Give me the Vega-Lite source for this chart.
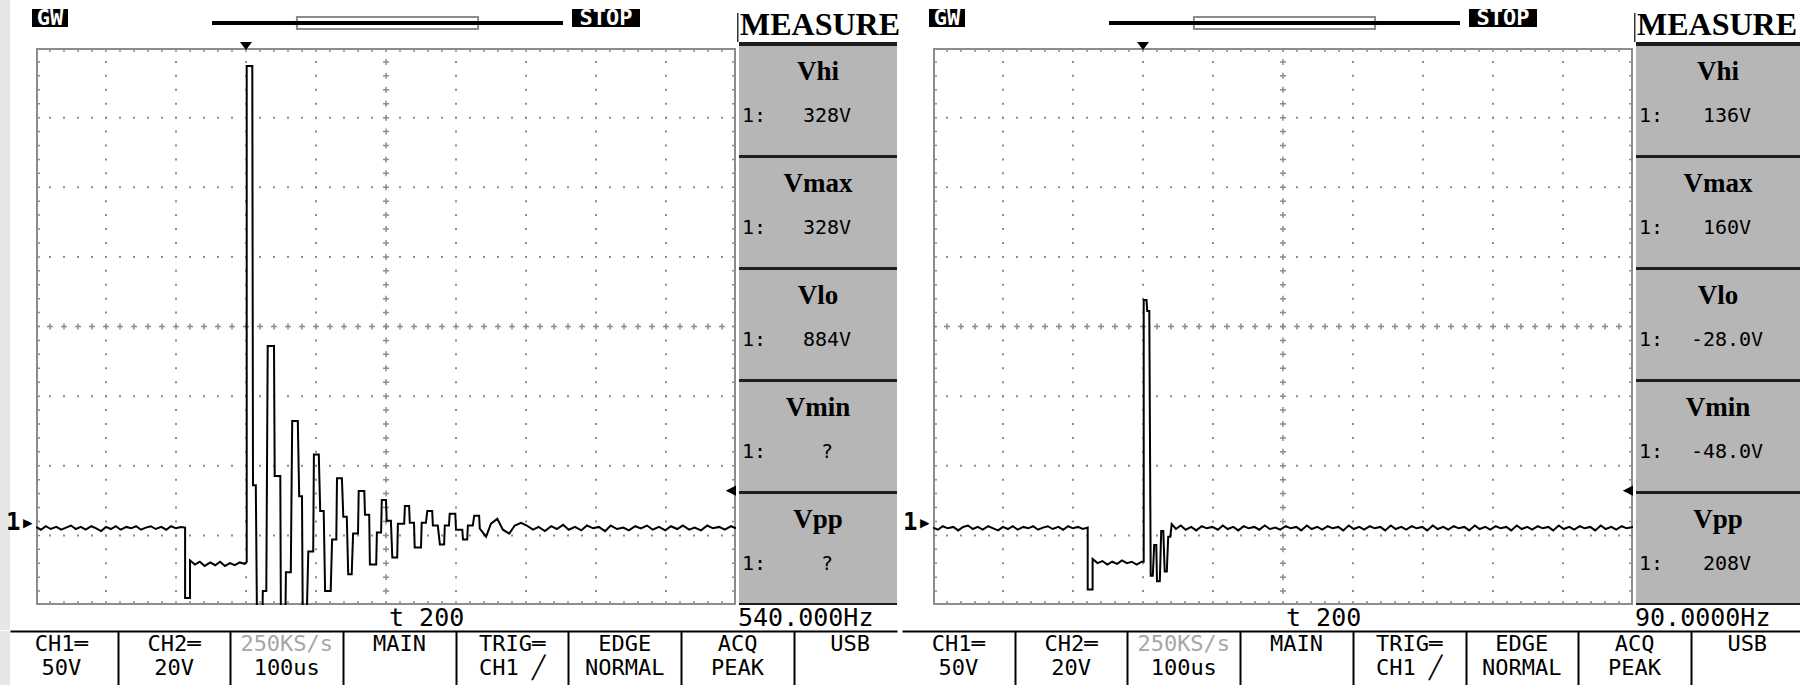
{
"$schema": "https://vega.github.io/schema/vega-lite/v6.json",
"padding": 0,
"background": "white",
"spacing": 0,
"config": {"view": {"stroke": null}, "concat": {"spacing": 0}},
"datasets": {
 "bar": [{"slot":1,"line":1,"txt":"CH1═"},{"slot":1,"line":2,"txt":"50V"},{"slot":2,"line":1,"txt":"CH2═"},{"slot":2,"line":2,"txt":"20V"},{"slot":3,"line":1,"txt":"250KS/s"},{"slot":3,"line":2,"txt":"100us"},{"slot":4,"line":1,"txt":"MAIN"},{"slot":5,"line":1,"txt":"TRIG═"},{"slot":5,"line":2,"txt":"CH1 ╱"},{"slot":6,"line":1,"txt":"EDGE"},{"slot":6,"line":2,"txt":"NORMAL"},{"slot":7,"line":1,"txt":"ACQ"},{"slot":7,"line":2,"txt":"PEAK"},{"slot":8,"line":1,"txt":"USB"}],
 "vgrid": [{"t":-200},{"t":-100},{"t":0},{"t":100},{"t":300},{"t":400},{"t":500},{"t":600}],
 "hgrid": [{"div":-3},{"div":-2},{"div":-1},{"div":1},{"div":2},{"div":3}],
 "vcenter": [{"t":200}],
 "hcenter": [{"div":0}],
 "leftEdge": [{"t":-300}],
 "rightEdge": [{"t":700}],
 "topEdge": [{"div":4}],
 "bottomEdge": [{"div":-4}],
 "memory": [{"rec_start":0,"rec_end":1,"win_start":0.242,"win_end":0.758}],
 "waveL": [{"t":-300,"v":-3},{"t":-293,"v":-5},{"t":-286,"v":-2.5},{"t":-279,"v":-4.5},{"t":-271,"v":-3},{"t":-264,"v":-5},{"t":-257,"v":-3.5},{"t":-250,"v":-2},{"t":-243,"v":-4.5},{"t":-236,"v":-3},{"t":-229,"v":-5},{"t":-221,"v":-2.5},{"t":-214,"v":-4},{"t":-207,"v":-6},{"t":-200,"v":-3},{"t":-193,"v":-4.5},{"t":-186,"v":-2.5},{"t":-179,"v":-5},{"t":-171,"v":-3},{"t":-164,"v":-4},{"t":-157,"v":-2.5},{"t":-150,"v":-5},{"t":-143,"v":-3.5},{"t":-136,"v":-2.5},{"t":-129,"v":-4.5},{"t":-121,"v":-3},{"t":-114,"v":-5},{"t":-107,"v":-2.5},{"t":-100,"v":-4},{"t":-93,"v":-3},{"t":-87,"v":-3.5},{"t":-87,"v":-54},{"t":-80,"v":-54},{"t":-80,"v":-27},{"t":-73,"v":-30},{"t":-66,"v":-28},{"t":-59,"v":-31},{"t":-51,"v":-28.5},{"t":-44,"v":-30.5},{"t":-37,"v":-28},{"t":-30,"v":-31},{"t":-23,"v":-29},{"t":-16,"v":-30.5},{"t":-9,"v":-28.5},{"t":-2,"v":-29.5},{"t":1,"v":-28},{"t":1,"v":328},{"t":9,"v":328},{"t":10,"v":27},{"t":14,"v":27},{"t":16,"v":-85},{"t":23,"v":-85},{"t":24,"v":-49},{"t":29,"v":-49},{"t":31,"v":127},{"t":40,"v":127},{"t":41,"v":33.5},{"t":49,"v":33.5},{"t":50,"v":-85},{"t":56,"v":-85},{"t":57,"v":-35.6},{"t":64,"v":-35.6},{"t":66,"v":73},{"t":74,"v":73},{"t":76,"v":19},{"t":80,"v":19},{"t":81,"v":-63},{"t":87,"v":-63},{"t":89,"v":-20.6},{"t":96,"v":-20.6},{"t":97,"v":49},{"t":104,"v":49},{"t":106,"v":8.5},{"t":111,"v":8.5},{"t":113,"v":-49},{"t":121,"v":-49},{"t":123,"v":-12},{"t":129,"v":-12},{"t":130,"v":32},{"t":137,"v":32},{"t":139,"v":4.3},{"t":144,"v":4.3},{"t":146,"v":-37},{"t":151,"v":-37},{"t":153,"v":-7.8},{"t":160,"v":-7.8},{"t":161,"v":22.8},{"t":169,"v":22.8},{"t":170,"v":5.7},{"t":176,"v":5.7},{"t":177,"v":-30},{"t":186,"v":-30},{"t":187,"v":-7},{"t":193,"v":-7},{"t":194,"v":16.4},{"t":200,"v":16.4},{"t":201,"v":1.4},{"t":207,"v":1.4},{"t":209,"v":-25},{"t":216,"v":-25},{"t":217,"v":-0.7},{"t":226,"v":-0.7},{"t":227,"v":12},{"t":233,"v":12},{"t":234,"v":0},{"t":240,"v":0},{"t":241,"v":-17.8},{"t":250,"v":-17.8},{"t":251,"v":0},{"t":257,"v":0},{"t":259,"v":8.5},{"t":266,"v":8.5},{"t":267,"v":-2},{"t":274,"v":-2},{"t":277,"v":-15.7},{"t":283,"v":-15.7},{"t":284,"v":-2},{"t":290,"v":-2},{"t":291,"v":6.4},{"t":299,"v":6.4},{"t":300,"v":-5},{"t":309,"v":-5},{"t":310,"v":-12},{"t":316,"v":-12},{"t":317,"v":-2},{"t":324,"v":-2},{"t":326,"v":5},{"t":333,"v":5},{"t":334,"v":-4.3},{"t":343,"v":-10},{"t":350,"v":-0.7},{"t":359,"v":2.8},{"t":367,"v":-5},{"t":376,"v":-7.8},{"t":384,"v":-2},{"t":393,"v":0},{"t":401,"v":-2},{"t":410,"v":-5},{"t":418,"v":-3},{"t":427,"v":-6},{"t":436,"v":-2.5},{"t":444,"v":-4.5},{"t":453,"v":-1.5},{"t":461,"v":-5},{"t":470,"v":-3},{"t":479,"v":-5.5},{"t":487,"v":-2},{"t":496,"v":-4},{"t":504,"v":-3},{"t":513,"v":-6},{"t":521,"v":-2},{"t":530,"v":-4.5},{"t":539,"v":-3.5},{"t":547,"v":-5.5},{"t":556,"v":-2.5},{"t":564,"v":-4},{"t":573,"v":-2},{"t":581,"v":-5},{"t":590,"v":-3},{"t":599,"v":-5.5},{"t":607,"v":-2.5},{"t":616,"v":-4.5},{"t":624,"v":-2},{"t":633,"v":-5},{"t":641,"v":-3.5},{"t":650,"v":-5.5},{"t":659,"v":-2},{"t":667,"v":-4},{"t":676,"v":-3},{"t":684,"v":-5},{"t":693,"v":-2.5},{"t":700,"v":-4}],
 "waveR": [{"t":-300,"v":-3.5},{"t":-293,"v":-5},{"t":-286,"v":-2.5},{"t":-279,"v":-4},{"t":-271,"v":-3},{"t":-264,"v":-5.5},{"t":-257,"v":-3},{"t":-250,"v":-2},{"t":-243,"v":-4.5},{"t":-236,"v":-3},{"t":-229,"v":-5},{"t":-221,"v":-2.5},{"t":-214,"v":-4},{"t":-207,"v":-5.5},{"t":-200,"v":-3},{"t":-193,"v":-4.5},{"t":-186,"v":-2.5},{"t":-179,"v":-5},{"t":-171,"v":-3},{"t":-164,"v":-4},{"t":-157,"v":-2.5},{"t":-150,"v":-5},{"t":-143,"v":-3.5},{"t":-136,"v":-2.5},{"t":-129,"v":-4.5},{"t":-121,"v":-3},{"t":-114,"v":-5},{"t":-107,"v":-2.5},{"t":-100,"v":-4},{"t":-93,"v":-3},{"t":-86,"v":-4.5},{"t":-79,"v":-3.5},{"t":-79,"v":-48},{"t":-72,"v":-48},{"t":-72,"v":-26},{"t":-65,"v":-29},{"t":-58,"v":-27.5},{"t":-51,"v":-30},{"t":-44,"v":-28},{"t":-37,"v":-29.5},{"t":-30,"v":-27},{"t":-23,"v":-29},{"t":-16,"v":-28},{"t":-9,"v":-30},{"t":-2,"v":-28},{"t":1,"v":-28},{"t":1,"v":160},{"t":5,"v":160},{"t":6,"v":152},{"t":9,"v":152},{"t":11,"v":-38},{"t":14,"v":-38},{"t":16,"v":-16},{"t":19,"v":-16},{"t":20,"v":-42},{"t":24,"v":-42},{"t":26,"v":-6},{"t":29,"v":-6},{"t":31,"v":-35},{"t":34,"v":-35},{"t":36,"v":-10},{"t":39,"v":-10},{"t":41,"v":-1},{"t":47,"v":-4.5},{"t":54,"v":-2},{"t":61,"v":-5},{"t":69,"v":-3},{"t":76,"v":-5.5},{"t":84,"v":-2.5},{"t":91,"v":-4},{"t":99,"v":-3},{"t":107,"v":-5},{"t":114,"v":-2},{"t":121,"v":-4.5},{"t":129,"v":-3},{"t":136,"v":-5.5},{"t":144,"v":-2.5},{"t":151,"v":-4},{"t":159,"v":-3},{"t":166,"v":-5},{"t":174,"v":-2},{"t":181,"v":-4.5},{"t":189,"v":-3.5},{"t":196,"v":-5},{"t":204,"v":-2.5},{"t":211,"v":-4},{"t":219,"v":-3},{"t":226,"v":-5.5},{"t":234,"v":-2},{"t":241,"v":-4.5},{"t":249,"v":-3},{"t":256,"v":-5},{"t":264,"v":-2.5},{"t":271,"v":-4},{"t":279,"v":-3},{"t":286,"v":-5.5},{"t":294,"v":-2},{"t":301,"v":-4.5},{"t":309,"v":-3},{"t":316,"v":-5},{"t":324,"v":-2.5},{"t":331,"v":-4},{"t":339,"v":-3},{"t":346,"v":-5.5},{"t":354,"v":-2},{"t":361,"v":-4.5},{"t":369,"v":-3},{"t":376,"v":-5},{"t":384,"v":-2.5},{"t":391,"v":-4},{"t":399,"v":-3},{"t":406,"v":-5.5},{"t":414,"v":-2},{"t":421,"v":-4.5},{"t":429,"v":-3},{"t":436,"v":-5},{"t":444,"v":-2.5},{"t":451,"v":-4},{"t":459,"v":-3},{"t":466,"v":-5.5},{"t":474,"v":-2},{"t":481,"v":-4.5},{"t":489,"v":-3},{"t":496,"v":-5},{"t":504,"v":-2.5},{"t":511,"v":-4},{"t":519,"v":-3},{"t":526,"v":-5.5},{"t":534,"v":-2},{"t":541,"v":-4.5},{"t":549,"v":-3},{"t":556,"v":-5},{"t":564,"v":-2.5},{"t":571,"v":-4},{"t":579,"v":-3},{"t":586,"v":-5.5},{"t":594,"v":-2},{"t":601,"v":-4.5},{"t":609,"v":-3},{"t":616,"v":-5},{"t":624,"v":-2.5},{"t":631,"v":-4},{"t":639,"v":-3},{"t":646,"v":-5.5},{"t":654,"v":-2},{"t":661,"v":-4.5},{"t":669,"v":-3},{"t":676,"v":-5},{"t":684,"v":-2.5},{"t":691,"v":-4},{"t":700,"v":-3}],
 "measL": [{"name":"Vhi","ch":"1:","reading":"328V"},{"name":"Vmax","ch":"1:","reading":"328V"},{"name":"Vlo","ch":"1:","reading":"884V"},{"name":"Vmin","ch":"1:","reading":"?"},{"name":"Vpp","ch":"1:","reading":"?"}],
 "measR": [{"name":"Vhi","ch":"1:","reading":"136V"},{"name":"Vmax","ch":"1:","reading":"160V"},{"name":"Vlo","ch":"1:","reading":"-28.0V"},{"name":"Vmin","ch":"1:","reading":"-48.0V"},{"name":"Vpp","ch":"1:","reading":"208V"}]
},
"vconcat": [
 {"hconcat": [
  {"width":10,"height":42,"view":{"fill":"#e6e6e6"},"data":{"values":[{}]},"mark":{"type":"point","opacity":0}},
  {"width":22,"height":42,"data":{"values":[{}]},"mark":{"type":"point","opacity":0}},
  {"width":36,"height":42,"data":{"values":[{"label":"GW"}]},"layer":[
    {"mark":{"type":"rect","color":"black"},"encoding":{"y":{"datum":0.786,"scale":{"domain":[0,1],"nice":false,"zero":false},"axis":null},"y2":{"datum":0.357}}},
    {"mark":{"type":"text","color":"white","font":"DejaVu Sans Mono","fontWeight":"bold","fontSize":22,"baseline":"middle"},"encoding":{"text":{"field":"label"},"y":{"datum":0.571,"scale":{"domain":[0,1],"nice":false,"zero":false},"axis":null}}}
  ]},
  {"width":144,"height":42,"data":{"values":[{}]},"mark":{"type":"point","opacity":0}},
  {"width":351,"height":42,"data":{"name":"memory"},"layer":[
    {"mark":{"type":"rect","fill":"white","stroke":"#8c8c8c","strokeWidth":2},"encoding":{"x":{"field":"win_start","type":"quantitative","scale":{"domain":[0,1],"nice":false},"axis":null},"x2":{"field":"win_end"},"y":{"datum":0.595,"scale":{"domain":[0,1],"nice":false,"zero":false},"axis":null},"y2":{"datum":0.31}}},
    {"mark":{"type":"rule","color":"black","strokeWidth":4},"encoding":{"x":{"field":"rec_start","type":"quantitative","scale":{"domain":[0,1],"nice":false},"axis":null},"x2":{"field":"rec_end"},"y":{"datum":0.452,"scale":{"domain":[0,1],"nice":false,"zero":false},"axis":null}}}
  ]},
  {"width":9,"height":42,"data":{"values":[{}]},"mark":{"type":"point","opacity":0}},
  {"width":68,"height":42,"data":{"values":[{"label":"STOP"}]},"layer":[
    {"mark":{"type":"rect","color":"black"},"encoding":{"y":{"datum":0.786,"scale":{"domain":[0,1],"nice":false,"zero":false},"axis":null},"y2":{"datum":0.357}}},
    {"mark":{"type":"text","color":"white","font":"DejaVu Sans Mono","fontWeight":"bold","fontSize":22,"baseline":"middle"},"encoding":{"text":{"field":"label"},"y":{"datum":0.571,"scale":{"domain":[0,1],"nice":false,"zero":false},"axis":null}}}
  ]},
  {"width":97,"height":42,"data":{"values":[{}]},"mark":{"type":"point","opacity":0}},
  {"width":160,"height":42,"data":{"values":[{"label":"MEASURE"}]},"layer":[
    {"mark":{"type":"rule","color":"#333333","strokeWidth":3,"clip":true},"encoding":{"x":{"datum":0,"scale":{"domain":[0,1],"nice":false},"axis":null},"y":{"datum":0.69,"scale":{"domain":[0,1],"nice":false,"zero":false},"axis":null},"y2":{"datum":0}}},
    {"mark":{"type":"text","color":"black","font":"Liberation Serif","fontWeight":"bold","fontSize":32,"align":"left","baseline":"bottom","dx":3},"encoding":{"text":{"field":"label"},"x":{"datum":0,"scale":{"domain":[0,1],"nice":false},"axis":null},"y":{"datum":0,"scale":{"domain":[0,1],"nice":false,"zero":false},"axis":null}}}
  ]},
  {"width":32,"height":42,"data":{"values":[{}]},"mark":{"type":"point","opacity":0}},
  {"width":36,"height":42,"data":{"values":[{"label":"GW"}]},"layer":[
    {"mark":{"type":"rect","color":"black"},"encoding":{"y":{"datum":0.786,"scale":{"domain":[0,1],"nice":false,"zero":false},"axis":null},"y2":{"datum":0.357}}},
    {"mark":{"type":"text","color":"white","font":"DejaVu Sans Mono","fontWeight":"bold","fontSize":22,"baseline":"middle"},"encoding":{"text":{"field":"label"},"y":{"datum":0.571,"scale":{"domain":[0,1],"nice":false,"zero":false},"axis":null}}}
  ]},
  {"width":144,"height":42,"data":{"values":[{}]},"mark":{"type":"point","opacity":0}},
  {"width":351,"height":42,"data":{"name":"memory"},"layer":[
    {"mark":{"type":"rect","fill":"white","stroke":"#8c8c8c","strokeWidth":2},"encoding":{"x":{"field":"win_start","type":"quantitative","scale":{"domain":[0,1],"nice":false},"axis":null},"x2":{"field":"win_end"},"y":{"datum":0.595,"scale":{"domain":[0,1],"nice":false,"zero":false},"axis":null},"y2":{"datum":0.31}}},
    {"mark":{"type":"rule","color":"black","strokeWidth":4},"encoding":{"x":{"field":"rec_start","type":"quantitative","scale":{"domain":[0,1],"nice":false},"axis":null},"x2":{"field":"rec_end"},"y":{"datum":0.452,"scale":{"domain":[0,1],"nice":false,"zero":false},"axis":null}}}
  ]},
  {"width":9,"height":42,"data":{"values":[{}]},"mark":{"type":"point","opacity":0}},
  {"width":68,"height":42,"data":{"values":[{"label":"STOP"}]},"layer":[
    {"mark":{"type":"rect","color":"black"},"encoding":{"y":{"datum":0.786,"scale":{"domain":[0,1],"nice":false,"zero":false},"axis":null},"y2":{"datum":0.357}}},
    {"mark":{"type":"text","color":"white","font":"DejaVu Sans Mono","fontWeight":"bold","fontSize":22,"baseline":"middle"},"encoding":{"text":{"field":"label"},"y":{"datum":0.571,"scale":{"domain":[0,1],"nice":false,"zero":false},"axis":null}}}
  ]},
  {"width":97,"height":42,"data":{"values":[{}]},"mark":{"type":"point","opacity":0}},
  {"width":166,"height":42,"data":{"values":[{"label":"MEASURE"}]},"layer":[
    {"mark":{"type":"rule","color":"#333333","strokeWidth":3,"clip":true},"encoding":{"x":{"datum":0,"scale":{"domain":[0,1],"nice":false},"axis":null},"y":{"datum":0.69,"scale":{"domain":[0,1],"nice":false,"zero":false},"axis":null},"y2":{"datum":0}}},
    {"mark":{"type":"text","color":"black","font":"Liberation Serif","fontWeight":"bold","fontSize":32,"align":"left","baseline":"bottom","dx":3},"encoding":{"text":{"field":"label"},"x":{"datum":0,"scale":{"domain":[0,1],"nice":false},"axis":null},"y":{"datum":0,"scale":{"domain":[0,1],"nice":false,"zero":false},"axis":null}}}
  ]}
 ],"spacing":0,"bounds":"flush"},
 {"hconcat": [
  {"width":10,"height":563,"view":{"fill":"#e6e6e6"},"data":{"values":[{}]},"mark":{"type":"point","opacity":0}},
  {"width":26,"height":563,"data":{"values":[{}]},"mark":{"type":"text","font":"DejaVu Sans Mono","fontWeight":"bold","fontSize":24,"align":"right","baseline":"middle","dx":-1,"color":"black"},
   "encoding":{"text":{"value":"1▸"},"x":{"datum":1,"scale":{"domain":[0,1],"nice":false},"axis":null},"y":{"datum":0,"scale":{"domain":[-59.07,345.24],"nice":false,"zero":false},"axis":null}}},
  {"width":700,"height":563,
   "resolve":{"scale":{"y":"independent"}},
   "layer":[
    {"data":{"name":"vgrid"},"mark":{"type":"rule","color":"#8c8c8c","strokeWidth":2,"strokeDash":[2,11.925],"strokeDashOffset":1,"clip":true},"encoding":{"x":{"field":"t","type":"quantitative","scale":{"domain":[-300,700],"nice":false,"zero":false},"axis":null},"y":{"datum":4,"scale":{"domain":[-4,4.0862],"nice":false,"zero":false},"axis":null},"y2":{"datum":-4}}},
    {"data":{"name":"hgrid"},"mark":{"type":"rule","color":"#8c8c8c","strokeWidth":2,"strokeDash":[2,12],"strokeDashOffset":1,"clip":true},"encoding":{"y":{"field":"div","type":"quantitative","scale":{"domain":[-4,4.0862],"nice":false,"zero":false},"axis":null}}},
    {"data":{"name":"vcenter"},"mark":{"type":"rule","color":"#8c8c8c","strokeWidth":1.5,"strokeDash":[6,7.925],"strokeDashOffset":3,"clip":true},"encoding":{"x":{"field":"t","type":"quantitative","scale":{"domain":[-300,700],"nice":false,"zero":false},"axis":null},"y":{"datum":4,"scale":{"domain":[-4,4.0862],"nice":false,"zero":false},"axis":null},"y2":{"datum":-4}}},
    {"data":{"name":"vcenter"},"mark":{"type":"rule","color":"#8c8c8c","strokeWidth":6,"strokeDash":[1.5,12.425],"strokeDashOffset":0.75,"clip":true},"encoding":{"x":{"field":"t","type":"quantitative","scale":{"domain":[-300,700],"nice":false,"zero":false},"axis":null},"y":{"datum":4,"scale":{"domain":[-4,4.0862],"nice":false,"zero":false},"axis":null},"y2":{"datum":-4}}},
    {"data":{"name":"hcenter"},"mark":{"type":"rule","color":"#8c8c8c","strokeWidth":1.5,"strokeDash":[6,8],"strokeDashOffset":3,"clip":true},"encoding":{"y":{"field":"div","type":"quantitative","scale":{"domain":[-4,4.0862],"nice":false,"zero":false},"axis":null}}},
    {"data":{"name":"hcenter"},"mark":{"type":"rule","color":"#8c8c8c","strokeWidth":6,"strokeDash":[1.5,12.5],"strokeDashOffset":0.75,"clip":true},"encoding":{"y":{"field":"div","type":"quantitative","scale":{"domain":[-4,4.0862],"nice":false,"zero":false},"axis":null}}},
    {"data":{"name":"leftEdge"},"mark":{"type":"rule","color":"#8c8c8c","strokeWidth":2,"xOffset":1,"clip":true},"encoding":{"x":{"field":"t","type":"quantitative","scale":{"domain":[-300,700],"nice":false,"zero":false},"axis":null},"y":{"datum":4,"scale":{"domain":[-4,4.0862],"nice":false,"zero":false},"axis":null},"y2":{"datum":-4}}},
    {"data":{"name":"leftEdge"},"mark":{"type":"rule","color":"#8c8c8c","strokeWidth":4,"xOffset":2,"strokeDash":[1.5,12.425],"strokeDashOffset":0.75,"clip":true},"encoding":{"x":{"field":"t","type":"quantitative","scale":{"domain":[-300,700],"nice":false,"zero":false},"axis":null},"y":{"datum":4,"scale":{"domain":[-4,4.0862],"nice":false,"zero":false},"axis":null},"y2":{"datum":-4}}},
    {"data":{"name":"rightEdge"},"mark":{"type":"rule","color":"#8c8c8c","strokeWidth":2,"xOffset":-1,"clip":true},"encoding":{"x":{"field":"t","type":"quantitative","scale":{"domain":[-300,700],"nice":false,"zero":false},"axis":null},"y":{"datum":4,"scale":{"domain":[-4,4.0862],"nice":false,"zero":false},"axis":null},"y2":{"datum":-4}}},
    {"data":{"name":"rightEdge"},"mark":{"type":"rule","color":"#8c8c8c","strokeWidth":4,"xOffset":-2,"strokeDash":[1.5,12.425],"strokeDashOffset":0.75,"clip":true},"encoding":{"x":{"field":"t","type":"quantitative","scale":{"domain":[-300,700],"nice":false,"zero":false},"axis":null},"y":{"datum":4,"scale":{"domain":[-4,4.0862],"nice":false,"zero":false},"axis":null},"y2":{"datum":-4}}},
    {"data":{"name":"topEdge"},"mark":{"type":"rule","color":"#8c8c8c","strokeWidth":2,"yOffset":1,"clip":true},"encoding":{"y":{"field":"div","type":"quantitative","scale":{"domain":[-4,4.0862],"nice":false,"zero":false},"axis":null}}},
    {"data":{"name":"topEdge"},"mark":{"type":"rule","color":"#8c8c8c","strokeWidth":4,"yOffset":2,"strokeDash":[1.5,12.5],"strokeDashOffset":0.75,"clip":true},"encoding":{"y":{"field":"div","type":"quantitative","scale":{"domain":[-4,4.0862],"nice":false,"zero":false},"axis":null}}},
    {"data":{"name":"bottomEdge"},"mark":{"type":"rule","color":"#8c8c8c","strokeWidth":2,"yOffset":-1,"clip":true},"encoding":{"y":{"field":"div","type":"quantitative","scale":{"domain":[-4,4.0862],"nice":false,"zero":false},"axis":null}}},
    {"data":{"name":"bottomEdge"},"mark":{"type":"rule","color":"#8c8c8c","strokeWidth":4,"yOffset":-2,"strokeDash":[1.5,12.5],"strokeDashOffset":0.75,"clip":true},"encoding":{"y":{"field":"div","type":"quantitative","scale":{"domain":[-4,4.0862],"nice":false,"zero":false},"axis":null}}},
    {"data":{"name":"waveL"},"mark":{"type":"line","color":"black","strokeWidth":2,"clip":true},
     "encoding":{
      "x":{"field":"t","type":"quantitative","scale":{"domain":[-300,700],"nice":false,"zero":false},"axis":null},
      "y":{"field":"v","type":"quantitative","scale":{"domain":[-59.07,345.24],"nice":false,"zero":false},"axis":null},
      "order":{"value":null}}},
    {"data":{"values":[{}]},"mark":{"type":"point","shape":"M-1,-1L1,-1L0,0.33Z","filled":true,"color":"black","size":144,"opacity":1},
     "encoding":{"x":{"datum":0,"scale":{"domain":[-300,700],"nice":false,"zero":false},"axis":null},"y":{"datum":4,"scale":{"domain":[-4,4.0862],"nice":false,"zero":false},"axis":null}}},
    {"data":{"values":[{}]},"mark":{"type":"point","shape":"M0,-0.5L-1,0L0,0.5Z","filled":true,"color":"black","size":420,"opacity":1},
     "encoding":{"x":{"datum":700,"scale":{"domain":[-300,700],"nice":false,"zero":false},"axis":null},"y":{"datum":23,"scale":{"domain":[-59.07,345.24],"nice":false,"zero":false},"axis":null}}}
   ]},
  {"width":3,"height":563,"data":{"values":[{}]},"mark":{"type":"point","opacity":0}},
  {"width":158,"height":563,"view":{"fill":"#1e1e1e"},
   "data":{"name":"measL"},
   "layer":[
    {"mark":{"type":"rect","fill":"#b6b6b6"},"encoding":{"y":{"field":"name","type":"nominal","scale":{"domain":["Vhi","Vmax","Vlo","Vmin","Vpp"],"paddingInner":0.0268,"paddingOuter":0.0268,"align":0.667},"axis":null}}},
    {"mark":{"type":"text","font":"Liberation Serif","fontWeight":"bold","fontSize":27,"baseline":"alphabetic","color":"black"},"encoding":{"text":{"field":"name"},"y":{"field":"name","type":"nominal","bandPosition":0.31,"axis":null}}},
    {"mark":{"type":"text","font":"DejaVu Sans Mono","fontSize":20,"align":"left","baseline":"alphabetic","dx":3,"color":"black"},
     "encoding":{"text":{"field":"ch"},"y":{"field":"name","type":"nominal","bandPosition":0.7,"axis":null},"x":{"datum":0,"scale":{"domain":[0,1],"nice":false},"axis":null}}},
    {"mark":{"type":"text","font":"DejaVu Sans Mono","fontSize":20,"baseline":"alphabetic","dx":9,"color":"black"},"encoding":{"text":{"field":"reading"},"y":{"field":"name","type":"nominal","bandPosition":0.7,"axis":null}}}
   ]},
  {"width":36,"height":563,"data":{"values":[{}]},"mark":{"type":"text","font":"DejaVu Sans Mono","fontWeight":"bold","fontSize":24,"align":"right","baseline":"middle","dx":-1,"color":"black"},
   "encoding":{"text":{"value":"1▸"},"x":{"datum":1,"scale":{"domain":[0,1],"nice":false},"axis":null},"y":{"datum":0,"scale":{"domain":[-59.07,345.24],"nice":false,"zero":false},"axis":null}}},
  {"width":700,"height":563,
   "resolve":{"scale":{"y":"independent"}},
   "layer":[
    {"data":{"name":"vgrid"},"mark":{"type":"rule","color":"#8c8c8c","strokeWidth":2,"strokeDash":[2,11.925],"strokeDashOffset":1,"clip":true},"encoding":{"x":{"field":"t","type":"quantitative","scale":{"domain":[-300,700],"nice":false,"zero":false},"axis":null},"y":{"datum":4,"scale":{"domain":[-4,4.0862],"nice":false,"zero":false},"axis":null},"y2":{"datum":-4}}},
    {"data":{"name":"hgrid"},"mark":{"type":"rule","color":"#8c8c8c","strokeWidth":2,"strokeDash":[2,12],"strokeDashOffset":1,"clip":true},"encoding":{"y":{"field":"div","type":"quantitative","scale":{"domain":[-4,4.0862],"nice":false,"zero":false},"axis":null}}},
    {"data":{"name":"vcenter"},"mark":{"type":"rule","color":"#8c8c8c","strokeWidth":1.5,"strokeDash":[6,7.925],"strokeDashOffset":3,"clip":true},"encoding":{"x":{"field":"t","type":"quantitative","scale":{"domain":[-300,700],"nice":false,"zero":false},"axis":null},"y":{"datum":4,"scale":{"domain":[-4,4.0862],"nice":false,"zero":false},"axis":null},"y2":{"datum":-4}}},
    {"data":{"name":"vcenter"},"mark":{"type":"rule","color":"#8c8c8c","strokeWidth":6,"strokeDash":[1.5,12.425],"strokeDashOffset":0.75,"clip":true},"encoding":{"x":{"field":"t","type":"quantitative","scale":{"domain":[-300,700],"nice":false,"zero":false},"axis":null},"y":{"datum":4,"scale":{"domain":[-4,4.0862],"nice":false,"zero":false},"axis":null},"y2":{"datum":-4}}},
    {"data":{"name":"hcenter"},"mark":{"type":"rule","color":"#8c8c8c","strokeWidth":1.5,"strokeDash":[6,8],"strokeDashOffset":3,"clip":true},"encoding":{"y":{"field":"div","type":"quantitative","scale":{"domain":[-4,4.0862],"nice":false,"zero":false},"axis":null}}},
    {"data":{"name":"hcenter"},"mark":{"type":"rule","color":"#8c8c8c","strokeWidth":6,"strokeDash":[1.5,12.5],"strokeDashOffset":0.75,"clip":true},"encoding":{"y":{"field":"div","type":"quantitative","scale":{"domain":[-4,4.0862],"nice":false,"zero":false},"axis":null}}},
    {"data":{"name":"leftEdge"},"mark":{"type":"rule","color":"#8c8c8c","strokeWidth":2,"xOffset":1,"clip":true},"encoding":{"x":{"field":"t","type":"quantitative","scale":{"domain":[-300,700],"nice":false,"zero":false},"axis":null},"y":{"datum":4,"scale":{"domain":[-4,4.0862],"nice":false,"zero":false},"axis":null},"y2":{"datum":-4}}},
    {"data":{"name":"leftEdge"},"mark":{"type":"rule","color":"#8c8c8c","strokeWidth":4,"xOffset":2,"strokeDash":[1.5,12.425],"strokeDashOffset":0.75,"clip":true},"encoding":{"x":{"field":"t","type":"quantitative","scale":{"domain":[-300,700],"nice":false,"zero":false},"axis":null},"y":{"datum":4,"scale":{"domain":[-4,4.0862],"nice":false,"zero":false},"axis":null},"y2":{"datum":-4}}},
    {"data":{"name":"rightEdge"},"mark":{"type":"rule","color":"#8c8c8c","strokeWidth":2,"xOffset":-1,"clip":true},"encoding":{"x":{"field":"t","type":"quantitative","scale":{"domain":[-300,700],"nice":false,"zero":false},"axis":null},"y":{"datum":4,"scale":{"domain":[-4,4.0862],"nice":false,"zero":false},"axis":null},"y2":{"datum":-4}}},
    {"data":{"name":"rightEdge"},"mark":{"type":"rule","color":"#8c8c8c","strokeWidth":4,"xOffset":-2,"strokeDash":[1.5,12.425],"strokeDashOffset":0.75,"clip":true},"encoding":{"x":{"field":"t","type":"quantitative","scale":{"domain":[-300,700],"nice":false,"zero":false},"axis":null},"y":{"datum":4,"scale":{"domain":[-4,4.0862],"nice":false,"zero":false},"axis":null},"y2":{"datum":-4}}},
    {"data":{"name":"topEdge"},"mark":{"type":"rule","color":"#8c8c8c","strokeWidth":2,"yOffset":1,"clip":true},"encoding":{"y":{"field":"div","type":"quantitative","scale":{"domain":[-4,4.0862],"nice":false,"zero":false},"axis":null}}},
    {"data":{"name":"topEdge"},"mark":{"type":"rule","color":"#8c8c8c","strokeWidth":4,"yOffset":2,"strokeDash":[1.5,12.5],"strokeDashOffset":0.75,"clip":true},"encoding":{"y":{"field":"div","type":"quantitative","scale":{"domain":[-4,4.0862],"nice":false,"zero":false},"axis":null}}},
    {"data":{"name":"bottomEdge"},"mark":{"type":"rule","color":"#8c8c8c","strokeWidth":2,"yOffset":-1,"clip":true},"encoding":{"y":{"field":"div","type":"quantitative","scale":{"domain":[-4,4.0862],"nice":false,"zero":false},"axis":null}}},
    {"data":{"name":"bottomEdge"},"mark":{"type":"rule","color":"#8c8c8c","strokeWidth":4,"yOffset":-2,"strokeDash":[1.5,12.5],"strokeDashOffset":0.75,"clip":true},"encoding":{"y":{"field":"div","type":"quantitative","scale":{"domain":[-4,4.0862],"nice":false,"zero":false},"axis":null}}},
    {"data":{"name":"waveR"},"mark":{"type":"line","color":"black","strokeWidth":2,"clip":true},
     "encoding":{
      "x":{"field":"t","type":"quantitative","scale":{"domain":[-300,700],"nice":false,"zero":false},"axis":null},
      "y":{"field":"v","type":"quantitative","scale":{"domain":[-59.07,345.24],"nice":false,"zero":false},"axis":null},
      "order":{"value":null}}},
    {"data":{"values":[{}]},"mark":{"type":"point","shape":"M-1,-1L1,-1L0,0.33Z","filled":true,"color":"black","size":144,"opacity":1},
     "encoding":{"x":{"datum":0,"scale":{"domain":[-300,700],"nice":false,"zero":false},"axis":null},"y":{"datum":4,"scale":{"domain":[-4,4.0862],"nice":false,"zero":false},"axis":null}}},
    {"data":{"values":[{}]},"mark":{"type":"point","shape":"M0,-0.5L-1,0L0,0.5Z","filled":true,"color":"black","size":420,"opacity":1},
     "encoding":{"x":{"datum":700,"scale":{"domain":[-300,700],"nice":false,"zero":false},"axis":null},"y":{"datum":23,"scale":{"domain":[-59.07,345.24],"nice":false,"zero":false},"axis":null}}}
   ]},
  {"width":3,"height":563,"data":{"values":[{}]},"mark":{"type":"point","opacity":0}},
  {"width":164,"height":563,"view":{"fill":"#1e1e1e"},
   "data":{"name":"measR"},
   "layer":[
    {"mark":{"type":"rect","fill":"#b6b6b6"},"encoding":{"y":{"field":"name","type":"nominal","scale":{"domain":["Vhi","Vmax","Vlo","Vmin","Vpp"],"paddingInner":0.0268,"paddingOuter":0.0268,"align":0.667},"axis":null}}},
    {"mark":{"type":"text","font":"Liberation Serif","fontWeight":"bold","fontSize":27,"baseline":"alphabetic","color":"black"},"encoding":{"text":{"field":"name"},"y":{"field":"name","type":"nominal","bandPosition":0.31,"axis":null}}},
    {"mark":{"type":"text","font":"DejaVu Sans Mono","fontSize":20,"align":"left","baseline":"alphabetic","dx":3,"color":"black"},
     "encoding":{"text":{"field":"ch"},"y":{"field":"name","type":"nominal","bandPosition":0.7,"axis":null},"x":{"datum":0,"scale":{"domain":[0,1],"nice":false},"axis":null}}},
    {"mark":{"type":"text","font":"DejaVu Sans Mono","fontSize":20,"baseline":"alphabetic","dx":9,"color":"black"},"encoding":{"text":{"field":"reading"},"y":{"field":"name","type":"nominal","bandPosition":0.7,"axis":null}}}
   ]}
 ],"spacing":0,"bounds":"flush"},
 {"hconcat": [
  {"width":10,"height":25,"view":{"fill":"#e6e6e6"},"data":{"values":[{}]},"mark":{"type":"point","opacity":0}},
  {"width":26,"height":25,"data":{"values":[{}]},"mark":{"type":"point","opacity":0}},
  {"width":700,"height":25,"data":{"values":[{"label":"t 200","t":200}]},"mark":{"type":"text","font":"DejaVu Sans Mono","fontSize":25,"align":"left","baseline":"middle","dx":3,"color":"black"},
   "encoding":{"text":{"field":"label"},"x":{"field":"t","type":"quantitative","scale":{"domain":[-300,700],"nice":false,"zero":false},"axis":null}}},
  {"width":3,"height":25,"data":{"values":[{}]},"mark":{"type":"point","opacity":0}},
  {"width":158,"height":25,"data":{"values":[{"freq":"540.000Hz"}]},"mark":{"type":"text","font":"DejaVu Sans Mono","fontSize":25,"align":"left","baseline":"middle","dx":-1,"color":"black"},
   "encoding":{"text":{"field":"freq"},"x":{"datum":0,"scale":{"domain":[0,1],"nice":false},"axis":null}}},
  {"width":36,"height":25,"data":{"values":[{}]},"mark":{"type":"point","opacity":0}},
  {"width":700,"height":25,"data":{"values":[{"label":"t 200","t":200}]},"mark":{"type":"text","font":"DejaVu Sans Mono","fontSize":25,"align":"left","baseline":"middle","dx":3,"color":"black"},
   "encoding":{"text":{"field":"label"},"x":{"field":"t","type":"quantitative","scale":{"domain":[-300,700],"nice":false,"zero":false},"axis":null}}},
  {"width":3,"height":25,"data":{"values":[{}]},"mark":{"type":"point","opacity":0}},
  {"width":164,"height":25,"data":{"values":[{"freq":"90.0000Hz"}]},"mark":{"type":"text","font":"DejaVu Sans Mono","fontSize":25,"align":"left","baseline":"middle","dx":-1,"color":"black"},
   "encoding":{"text":{"field":"freq"},"x":{"datum":0,"scale":{"domain":[0,1],"nice":false},"axis":null}}}
 ],"spacing":0,"bounds":"flush"},
 {"hconcat": [
  {"width":10,"height":54,"view":{"fill":"#e6e6e6"},"data":{"values":[{}]},"mark":{"type":"point","opacity":0}},
  {"width":887,"height":54,"data":{"name":"bar"},"mark":{"type":"text","font":"DejaVu Sans Mono","fontSize":22,"baseline":"alphabetic"},
   "encoding":{
    "x":{"field":"slot","type":"quantitative","scale":{"domain":[0.5444,8.415],"nice":false,"zero":false},"axis":{"orient":"top","values":[1.5,2.5,3.5,4.5,5.5,6.5,7.5],"grid":true,"gridColor":"black","gridWidth":2,"domain":true,"domainColor":"black","domainWidth":2,"ticks":false,"labels":false,"title":null}},
    "y":{"field":"line","type":"ordinal","scale":{"type":"point","padding":0.625,"align":0.667},"axis":null},
    "text":{"field":"txt"},
    "color":{"condition":{"test":"datum.slot == 3 && datum.line == 1","value":"#a6a6a6"},"value":"black"}}},
  {"width":5,"height":54,"data":{"values":[{}]},"mark":{"type":"point","opacity":0}},
  {"width":898,"height":54,"data":{"name":"bar"},"mark":{"type":"text","font":"DejaVu Sans Mono","fontSize":22,"baseline":"alphabetic"},
   "encoding":{
    "x":{"field":"slot","type":"quantitative","scale":{"domain":[0.5,8.468],"nice":false,"zero":false},"axis":{"orient":"top","values":[1.5,2.5,3.5,4.5,5.5,6.5,7.5],"grid":true,"gridColor":"black","gridWidth":2,"domain":true,"domainColor":"black","domainWidth":2,"ticks":false,"labels":false,"title":null}},
    "y":{"field":"line","type":"ordinal","scale":{"type":"point","padding":0.625,"align":0.667},"axis":null},
    "text":{"field":"txt"},
    "color":{"condition":{"test":"datum.slot == 3 && datum.line == 1","value":"#a6a6a6"},"value":"black"}}}
 ],"spacing":0,"bounds":"flush"}
]
}
